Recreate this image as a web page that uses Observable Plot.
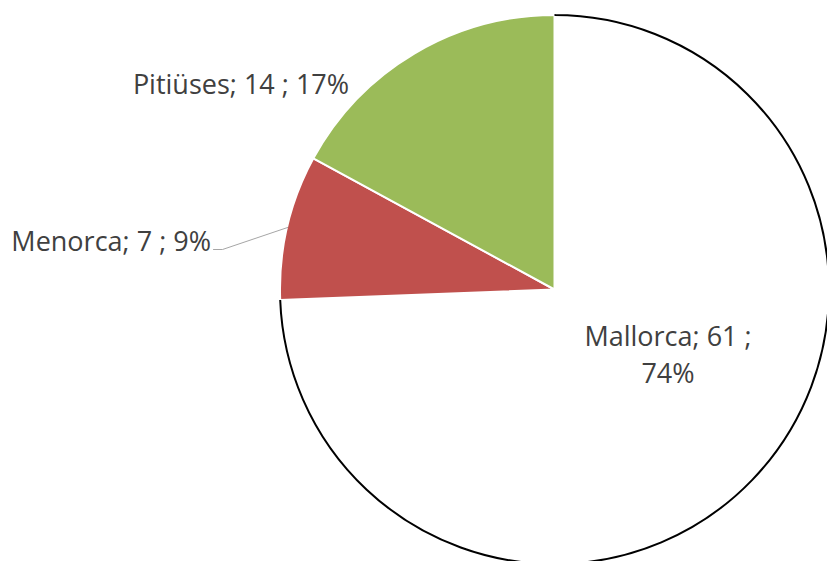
<!DOCTYPE html>
<html><head><meta charset="utf-8">
<script src="https://cdn.jsdelivr.net/npm/d3@7"></script>
<script src="https://cdn.jsdelivr.net/npm/@observablehq/plot@0.6"></script>
<style>html,body{margin:0;padding:0;background:#fff}</style>
</head><body><div id="chart"></div>
<script>
// ---- data ----
const categories = ["Mallorca", "Menorca", "Pitiüses"];
const values = [61, 7, 14];
const percentLabels = ["74%", "9%", "17%"];
const colors = ["#FFFFFF", "#C0504D", "#9BBB59"];

// ---- layout ----
const W = 827, H = 561;
const cx = 554.5, cy = 289.5, R = 274.5;
const FONT = 27;

const rows = categories.map((c, i) => ({name: c, value: values[i], pct: percentLabels[i], color: colors[i]}));
const arcs = d3.pie().sort(null).value(d => d.value)(rows);
const polar = (a, r) => [cx + r * Math.sin(a), cy - r * Math.cos(a)];

// label placement (layout only)
const labelPlace = {
  "Mallorca": {x: 667.5, y: 352, anchor: "middle", wrap: true},
  "Menorca":  {x: 210.5, y: 238.5, anchor: "end", leader: true},
  "Pitiüses": {x: 240.5, y: 81.8, anchor: "middle"}
};
const labels = arcs.map(a => {
  const p = labelPlace[a.data.name];
  const text = p.wrap
    ? `${a.data.name}; ${a.data.value} ;\n${a.data.pct}`
    : `${a.data.name}; ${a.data.value} ; ${a.data.pct}`;
  return {x: p.x, y: p.y, anchor: p.anchor, text};
});

// leader line for Menorca
const leader = [];
arcs.forEach(a => {
  const p = labelPlace[a.data.name];
  if (p.leader) {
    const mid = (a.startAngle + a.endAngle) / 2;
    const [ex, ey] = polar(mid, R);
    leader.push({x: p.x + 2.5, y: p.y + 10.5}, {x: p.x + 11.5, y: p.y + 10.5}, {x: ex, y: ey});
  }
});

const slices = (index, scales) => {
  const g = d3.create("svg:g");
  const x0 = scales.x(cx), y0 = scales.y(cy);
  const rr = scales.x(cx + R) - x0;
  const arcGen = d3.arc().innerRadius(0).outerRadius(rr);
  g.selectAll("path.slice").data(arcs).join("path")
    .attr("class", "slice")
    .attr("transform", `translate(${x0},${y0})`)
    .attr("d", arcGen)
    .attr("fill", d => d.data.color)
    .attr("stroke", "#fff")
    .attr("stroke-width", 2)
    .attr("stroke-linejoin", "round");
  // dark outline along the white slice's outer arc
  const m = arcs[0];
  const p = d3.path();
  p.moveTo(rr * Math.sin(m.startAngle) + 1, -rr * Math.cos(m.startAngle));
  p.arc(0, 0, rr, m.startAngle - Math.PI / 2, m.endAngle - Math.PI / 2);
  g.append("path")
    .attr("transform", `translate(${x0},${y0})`)
    .attr("d", p.toString())
    .attr("fill", "none")
    .attr("stroke", "#000")
    .attr("stroke-width", 2);
  return g.node();
};

const chart = Plot.plot({
  width: W, height: H,
  margin: 0,
  x: {domain: [0, W], range: [0, W], axis: null},
  y: {domain: [0, H], range: [0, H], axis: null},
  style: {background: "#fff", overflow: "hidden"},
  marks: [
    Plot.dot([{x: cx, y: cy}], {x: "x", y: "y", r: 0, stroke: "none"}),
    slices,
    Plot.line(leader, {x: "x", y: "y", stroke: "#A6A6A6", strokeWidth: 1}),
    Plot.text(labels.filter(d => d.anchor === "middle"), {x: "x", y: "y", text: "text", textAnchor: "middle",
      fontSize: FONT, fontFamily: "Open Sans", fill: "#404040", lineHeight: 1.36}),
    Plot.text(labels.filter(d => d.anchor === "end"), {x: "x", y: "y", text: "text", textAnchor: "end",
      fontSize: FONT, fontFamily: "Open Sans", fill: "#404040", lineHeight: 1.36})
  ]
});
document.getElementById("chart").appendChild(chart);
</script>
</body></html>
